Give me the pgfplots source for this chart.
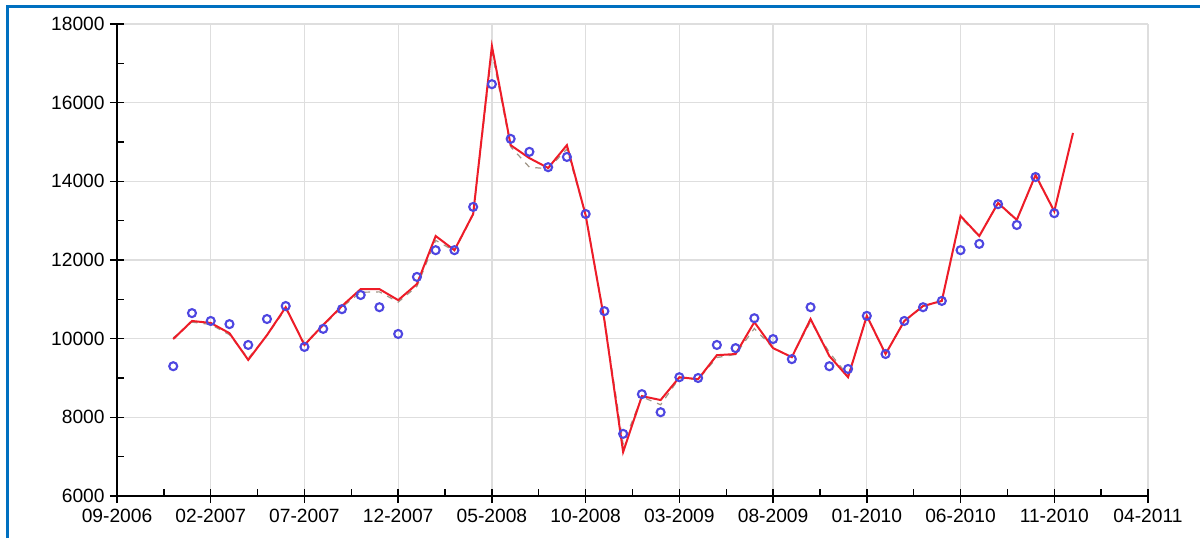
\documentclass[border=0pt]{standalone}
\usepackage{pgfplots}
\pgfplotsset{compat=1.18}
\usepackage{fontspec}
\setmainfont{Liberation Sans}
\definecolor{obsblue}{RGB}{78,70,225}
\definecolor{fitred}{RGB}{238,28,40}
\definecolor{fitgray}{RGB}{160,150,135}
\definecolor{frameblue}{RGB}{0,112,192}
\definecolor{gridgray}{RGB}{222,222,222}
\begin{document}
\begin{tikzpicture}[x=0.5pt,y=0.5pt]
\useasboundingbox (0,0) rectangle (1200,538);
\fill[white] (0,0) rectangle (1200,538);
\begin{axis}[
  at={(58.5pt,21pt)}, anchor=south west,
  scale only axis, width=515.5pt, height=236pt,
  xmin=0, xmax=55, ymin=6000, ymax=18000,
  axis x line*=bottom, axis y line*=left,
  axis line style={-, black, line width=0.8pt},
  xtick={0,5,...,55},
  xticklabels={09-2006,02-2007,07-2007,12-2007,05-2008,10-2008,03-2009,08-2009,01-2010,06-2010,11-2010,04-2011},
  ytick={6000,8000,...,18000},
  minor x tick num=1, minor y tick num=1,
  tick align=inside,
  major tick length=3.5pt, minor tick length=3.5pt,
  tick style={black, line width=0.7pt},
  extra x ticks={0,5,...,55}, extra x tick labels={},
  extra y ticks={6000,8000,...,18000}, extra y tick labels={},
  extra tick style={tick align=outside, grid=none},
  grid=major, major grid style={gridgray, line width=0.6pt},
  font=\fontsize{9.6}{11}\selectfont,
  yticklabel style={inner sep=0pt, anchor=east, xshift=-6pt},
  xticklabel style={inner sep=0pt, anchor=north, yshift=-6.5pt},
  scaled y ticks=false,
  /pgf/number format/.cd, 1000 sep={}, assume math mode=true,
]
% observations
\addplot[only marks, mark=o, mark size=2pt, obsblue, line width=1.05pt] coordinates {
(3,9300) (4,10650) (5,10450) (6,10370) (7,9840) (8,10500) (9,10830) (10,9790)
(11,10250) (12,10750) (13,11110) (14,10800) (15,10120) (16,11570) (17,12250) (18,12250)
(19,13350) (20,16470) (21,15080) (22,14750) (23,14360) (24,14620) (25,13170) (26,10700)
(27,7580) (28,8590) (29,8130) (30,9020) (31,9000) (32,9840) (33,9760) (34,10520)
(35,9990) (36,9480) (37,10800) (38,9300) (39,9230) (40,10580) (41,9610) (42,10450)
(43,10800) (44,10960) (45,12250) (46,12410) (47,13420) (48,12890) (49,14110) (50,13190)
};
% second fit
\addplot[fitgray, dashed, line width=0.6pt] coordinates {
(3,10020) (4,10420) (5,10360) (6,10100) (7,9500) (8,10080) (9,10760) (10,9880)
(11,10330) (12,10800) (13,11180) (14,11190) (15,10930) (16,11330) (17,12500) (18,12230)
(19,13150) (20,17300) (21,14880) (22,14360) (23,14320) (24,14820) (25,13150) (26,10500)
(27,7320) (28,8520) (29,8320) (30,9000) (31,8960) (32,9520) (33,9600) (34,10260)
(35,9760) (36,9540) (37,10440) (38,9650) (39,9060) (40,10560) (41,9620) (42,10440)
(43,10820) (44,10950) (45,13080) (46,12600) (47,13440) (48,13000) (49,14150) (50,13230)
};
% main fit
\addplot[fitred, line width=1pt] coordinates {
(3,9990) (4,10450) (5,10400) (6,10140) (7,9460) (8,10090) (9,10800) (10,9840)
(11,10350) (12,10830) (13,11260) (14,11260) (15,10980) (16,11390) (17,12610) (18,12250)
(19,13170) (20,17440) (21,14920) (22,14590) (23,14340) (24,14920) (25,13140) (26,10470)
(27,7120) (28,8540) (29,8440) (30,9020) (31,8970) (32,9580) (33,9610) (34,10420)
(35,9760) (36,9530) (37,10500) (38,9560) (39,9020) (40,10580) (41,9610) (42,10450)
(43,10830) (44,10960) (45,13120) (46,12610) (47,13450) (48,13020) (49,14160) (50,13240)
(51,15230)
};
\end{axis}
\draw[frameblue, line width=1.5pt] (7,0) -- (7,532) -- (1200,532);
\end{tikzpicture}
\end{document}
